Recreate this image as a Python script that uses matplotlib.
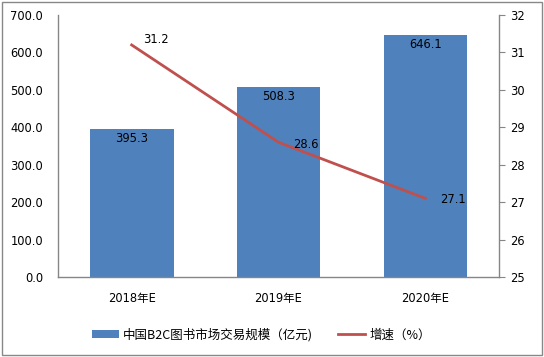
import matplotlib
matplotlib.use('Agg')
import matplotlib.pyplot as plt
from matplotlib.patches import Rectangle

plt.rcParams['font.family'] = ['DejaVu Sans', 'Noto Sans CJK SC']

years = ['2018年E', '2019年E', '2020年E']
scale = [395.3, 508.3, 646.1]
growth = [31.2, 28.6, 27.1]

BAR_C = '#4F81BD'
LINE_C = '#C0504D'
AX_C = '#868686'
FS = 8.3

fig = plt.figure(figsize=(5.44, 3.57), dpi=100)
ax = fig.add_axes([0.107, 0.224, 0.81, 0.734])
ax2 = ax.twinx()

x = list(range(len(years)))
ax.bar(x, scale, width=0.57, color=BAR_C, zorder=2,
       label='中国B2C图书市场交易规模（亿元)')
for xi, v in zip(x, scale):
    ax.text(xi, v - 8, f'{v:.1f}', ha='center', va='top', fontsize=FS, color='black', zorder=5)

ax2.plot(x, growth, color=LINE_C, lw=2, zorder=3, label='增速（%）')
offsets = [(0.08, 0.15), (0.1, -0.05), (0.1, -0.03)]
for xi, v, (dx, dy) in zip(x, growth, offsets):
    ax2.text(xi + dx, v + dy, f'{v:.1f}', ha='left', va='center', fontsize=FS, color='black')

ax.set_xlim(-0.5, 2.5)
ax.set_ylim(0, 700)
ax.set_yticks(range(0, 701, 100))
ax.set_yticklabels([f'{t:.1f}' for t in range(0, 701, 100)])
ax2.set_ylim(25, 32)
ax2.set_yticks(range(25, 33))

ax.set_xticks(x)
ax.set_xticklabels(years)
ax.tick_params(axis='x', length=0, pad=11, labelsize=FS)
ax.tick_params(axis='y', length=0, pad=11, labelsize=FS)
ax2.tick_params(axis='y', length=4, color=AX_C, pad=4, labelsize=FS)

ax.spines['top'].set_visible(False)
ax2.spines['top'].set_visible(False)
ax.spines['right'].set_visible(False)
ax2.spines['left'].set_visible(False)
ax2.spines['bottom'].set_visible(False)
for sp in [ax.spines['left'], ax.spines['bottom'], ax2.spines['right']]:
    sp.set_color(AX_C)
    sp.set_linewidth(1)

h1, l1 = ax.get_legend_handles_labels()
h2, l2 = ax2.get_legend_handles_labels()
fig.legend(h1 + h2, l1 + l2, loc='center', bbox_to_anchor=(0.48, 0.062), ncol=2,
           frameon=False, handlelength=2.2, handleheight=0.6, columnspacing=2.0,
           handletextpad=0.3, prop={'family': ['Noto Sans CJK SC'], 'size': 9})

fig.patches.append(Rectangle((0.004, 0.006), 0.992, 0.988, transform=fig.transFigure,
                             fill=False, edgecolor='#888888', lw=1))

fig.savefig('out.png', dpi=100)
